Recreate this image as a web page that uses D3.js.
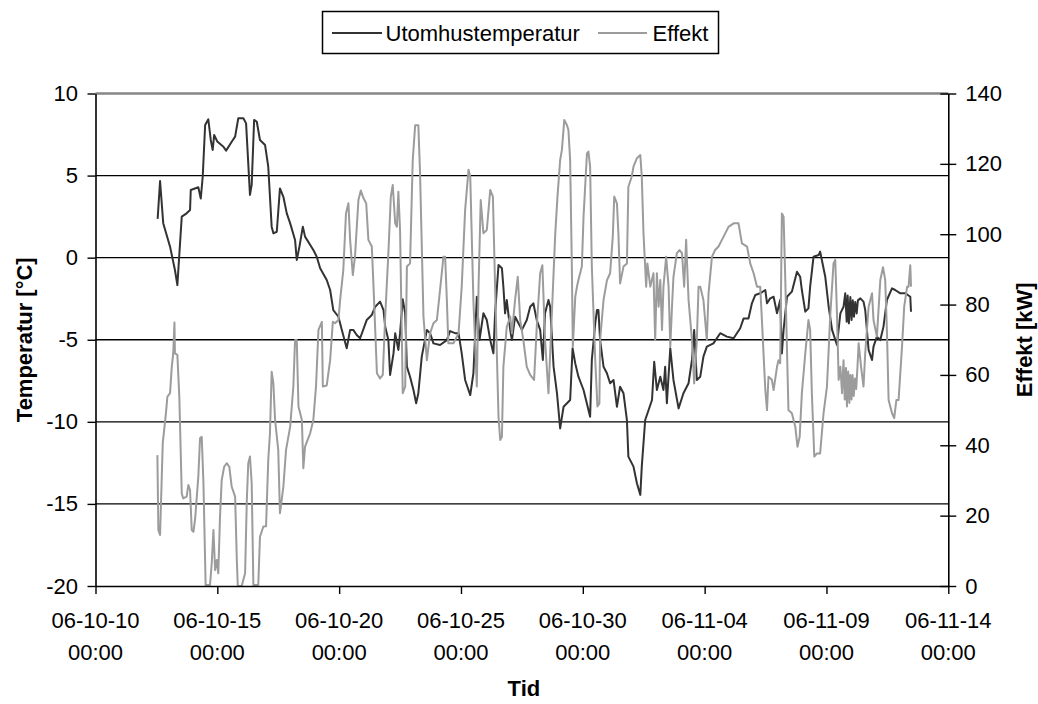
<!DOCTYPE html>
<html>
<head>
<meta charset="utf-8">
<script src="https://cdn.jsdelivr.net/npm/d3@7"></script>
<style>
  body { margin: 0; background: #fff; }
  svg { display: block; }
  text { font-family: "Liberation Sans", Arial, sans-serif; fill: #000; }
</style>
</head>
<body>
<svg id="chart" width="1038" height="704"></svg>
<script>
// Time axis: 2006-10-10 00:00 .. 2006-11-14 00:00, ticks every five days
const xTickDates = ["2006-10-10", "2006-10-15", "2006-10-20", "2006-10-25",
                    "2006-10-30", "2006-11-04", "2006-11-09", "2006-11-14"];
const tempTicks = [-20, -15, -10, -5, 0, 5, 10];
const powerTicks = [0, 20, 40, 60, 80, 100, 120, 140];
const seriesNames = ["Utomhustemperatur", "Effekt"];

// Outdoor temperature [°C]: [days after 2006-10-10 00:00, value]
const temperature = [
  [2.55,2.36],[2.65,4.67],[2.78,2.1],[3.06,0.67],[3.26,-0.75],[3.36,-1.67],[3.54,2.5],[3.74,2.7],
  [3.88,2.9],[3.91,4.12],[4.22,4.29],[4.32,3.6],[4.40,4.93],[4.50,8.08],[4.63,8.43],[4.73,7.17],
  [4.81,6.56],[4.87,7.47],[5.00,7.07],[5.25,6.76],[5.36,6.52],[5.59,7.06],[5.73,7.37],[5.86,8.49],
  [6.07,8.49],[6.18,8.18],[6.34,3.82],[6.41,4.43],[6.51,8.39],[6.62,8.28],[6.75,7.17],[6.96,6.86],
  [7.09,5.54],[7.23,1.89],[7.30,1.48],[7.44,1.58],[7.57,4.22],[7.71,3.71],[7.85,2.7],[7.99,2.09],
  [8.19,1.08],[8.26,-0.14],[8.37,0.67],[8.51,1.89],[8.60,1.28],[8.94,0.47],[9.08,0.06],[9.22,-0.65],
  [9.49,-1.36],[9.63,-1.97],[9.76,-3.19],[9.97,-3.6],[10.11,-4.4],[10.31,-5.52],[10.45,-4.4],[10.58,-4.4],
  [10.72,-4.71],[10.86,-4.91],[11.13,-3.8],[11.34,-3.49],[11.48,-2.99],[11.68,-2.68],[11.82,-3.19],[11.89,-4.2],
  [12.02,-5.01],[12.09,-7.15],[12.23,-5.83],[12.30,-4.61],[12.43,-5.62],[12.50,-4.6],[12.61,-2.54],[12.71,-3.39],
  [12.78,-6.64],[12.91,-7.25],[13.05,-8.06],[13.16,-8.87],[13.25,-8.26],[13.39,-6.03],[13.60,-4.4],[13.73,-4.6],
  [13.87,-5.22],[14.14,-5.32],[14.42,-5.02],[14.55,-4.47],[14.76,-4.6],[14.90,-4.6],[15.03,-5.83],[15.17,-7.45],
  [15.38,-8.37],[15.51,-7.04],[15.65,-2.38],[15.76,-5.02],[15.92,-3.39],[16.06,-3.8],[16.20,-5.02],[16.33,-5.83],
  [16.40,-3.39],[16.54,-0.45],[16.68,-0.65],[16.74,-1.77],[16.81,-3.39],[16.88,-2.58],[17.02,-4.4],[17.09,-5.02],
  [17.22,-3.6],[17.36,-4.0],[17.50,-4.4],[17.70,-3.8],[17.84,-2.99],[17.97,-2.78],[18.11,-3.8],[18.25,-4.4],
  [18.36,-6.23],[18.45,-3.39],[18.59,-2.58],[18.66,-2.99],[18.80,-6.64],[18.94,-8.26],[19.07,-10.4],[19.21,-9.08],
  [19.35,-8.87],[19.48,-8.67],[19.58,-5.52],[19.69,-6.44],[19.82,-7.25],[20.03,-8.06],[20.30,-9.69],[20.37,-6.23],
  [20.51,-4.0],[20.58,-3.19],[20.64,-3.19],[20.71,-5.02],[20.85,-6.64],[20.99,-7.04],[21.12,-7.65],[21.26,-7.45],
  [21.40,-9.08],[21.53,-7.86],[21.67,-8.26],[21.81,-9.89],[21.87,-12.12],[22.08,-12.73],[22.22,-13.74],[22.36,-14.45],
  [22.42,-12.73],[22.56,-9.89],[22.70,-9.28],[22.84,-8.67],[22.93,-6.34],[23.04,-8.06],[23.18,-7.25],[23.31,-8.06],
  [23.38,-6.64],[23.45,-8.87],[23.59,-5.52],[23.72,-7.45],[23.93,-9.18],[24.13,-8.26],[24.34,-7.65],[24.48,-6.23],
  [24.57,-4.4],[24.68,-7.45],[24.82,-7.25],[24.95,-6.03],[25.09,-5.42],[25.36,-5.22],[25.64,-4.6],[25.91,-4.81],
  [26.19,-4.91],[26.46,-4.3],[26.60,-3.7],[26.80,-3.7],[26.94,-2.78],[27.08,-2.27],[27.28,-2.17],[27.49,-1.97],
  [27.56,-2.78],[27.69,-2.48],[27.83,-2.38],[27.97,-3.39],[28.10,-2.58],[28.17,-5.83],[28.24,-4.4],[28.38,-2.38],
  [28.58,-2.07],[28.79,-0.86],[28.92,-1.16],[28.99,-1.97],[29.13,-3.29],[29.26,-3.09],[29.33,-1.77],[29.47,0.06],
  [29.68,0.16],[29.74,0.37],[29.81,-0.14],[29.95,-1.16],[30.09,-2.99],[30.23,-4.4],[30.43,-5.32],[30.57,-3.39],
  [30.70,-2.99],[30.77,-2.17],[30.83,-3.9],[30.87,-2.3],[30.92,-4.0],[30.98,-2.4],[31.03,-3.8],[31.08,-2.6],
  [31.13,-3.6],[31.18,-2.7],[31.24,-3.4],[31.29,-2.6],[31.39,-2.48],[31.52,-2.68],[31.59,-3.19],[31.73,-5.63],
  [31.87,-6.23],[31.93,-5.42],[32.07,-4.81],[32.21,-5.02],[32.34,-4.2],[32.48,-2.58],[32.69,-1.87],[32.82,-1.97],
  [33.03,-2.17],[33.24,-2.17],[33.44,-2.38],[33.47,-3.29]
];

// Heating power [kW]: [days after 2006-10-10 00:00, value]
const power = [
  [2.54,37.2],[2.58,15.9],[2.65,14.5],[2.76,40.6],[2.89,49.1],[2.95,53.8],[3.06,54.8],[3.13,62.3],
  [3.19,66.1],[3.24,74.9],[3.26,66.1],[3.36,65.7],[3.44,53.8],[3.54,26.3],[3.60,24.9],[3.74,25.4],
  [3.81,28.7],[3.88,27.3],[3.95,15.9],[4.02,15.4],[4.09,19.2],[4.22,31.1],[4.29,42.0],[4.36,42.4],
  [4.43,29.2],[4.52,0.3],[4.70,0.3],[4.77,6.4],[4.84,15.9],[4.91,4.5],[4.98,7.4],[5.04,3.6],
  [5.11,19.7],[5.18,30.1],[5.28,33.9],[5.39,34.9],[5.49,33.9],[5.59,28.2],[5.73,25.4],[5.80,7.4],
  [5.84,0],[6.00,0],[6.14,3.6],[6.21,24.4],[6.27,34.9],[6.34,36.8],[6.41,29.2],[6.48,0.3],
  [6.68,0.3],[6.75,14.0],[6.89,16.9],[7.00,17],[7.09,35.8],[7.16,43.4],[7.23,60.9],[7.30,57.6],
  [7.37,47.2],[7.50,38.7],[7.57,20.7],[7.71,28.2],[7.82,38.7],[7.99,45.3],[8.12,56.7],[8.19,69.9],
  [8.26,69.9],[8.33,51.0],[8.47,47.2],[8.53,33.5],[8.60,39.6],[8.81,43.4],[8.94,47.2],[9.05,56.7],
  [9.15,72.8],[9.29,75.1],[9.33,56.7],[9.49,57],[9.63,64.2],[9.74,75.1],[9.83,74.7],[9.97,75.6],
  [10.04,81.3],[10.17,89.8],[10.28,105.9],[10.38,108.8],[10.45,98.4],[10.56,88.4],[10.65,93.6],[10.79,109.7],
  [10.89,112.4],[11.00,110.2],[11.11,108.8],[11.20,98.4],[11.34,96.5],[11.41,85.1],[11.55,60.5],[11.68,59.0],
  [11.79,60],[11.89,76.6],[12.02,94.6],[12.12,110.7],[12.20,114.0],[12.30,103.1],[12.37,102.1],[12.43,112.1],
  [12.50,101],[12.57,71.8],[12.61,54.8],[12.71,56.7],[12.78,90.8],[12.91,91.7],[13.02,121.1],[13.12,131.0],
  [13.25,131.0],[13.32,117.3],[13.46,76.6],[13.60,64.2],[13.73,71.8],[13.87,74.7],[14.01,75.6],[14.14,84.1],
  [14.28,93.6],[14.35,93.6],[14.42,81.3],[14.48,69.0],[14.69,69.0],[14.90,71.8],[15.03,85.1],[15.17,106.9],
  [15.31,118.3],[15.38,116.4],[15.51,81],[15.65,56.7],[15.72,85],[15.81,109.7],[15.92,100.3],[16.06,101.2],
  [16.20,112.6],[16.31,110.7],[16.40,85],[16.54,48.1],[16.61,41.5],[16.68,42.4],[16.74,62.3],[16.88,73.7],
  [17.02,76.6],[17.09,71.8],[17.22,81.3],[17.33,87.9],[17.43,75.6],[17.56,69.9],[17.70,62.3],[17.84,60.0],
  [18.00,58.6],[18.11,73.7],[18.25,88.9],[18.34,91.2],[18.45,70],[18.59,54.8],[18.66,66.1],[18.80,88.9],
  [18.87,100.3],[18.96,110.7],[19.07,121.1],[19.14,123.9],[19.24,132.5],[19.35,131.0],[19.41,129.6],[19.48,121],
  [19.55,90.8],[19.59,68.0],[19.69,82.2],[19.76,85.1],[19.82,87.0],[19.96,90.8],[20.03,105.0],[20.17,123.0],
  [20.23,123.5],[20.30,119.2],[20.37,90.8],[20.51,64.2],[20.60,51.0],[20.68,51.9],[20.71,69.9],[20.85,81.3],
  [20.99,86.9],[21.12,88.9],[21.23,99.3],[21.29,110.7],[21.40,108.8],[21.46,100.3],[21.53,86.0],[21.67,90.8],
  [21.81,91.7],[21.87,113.5],[22.01,116.4],[22.08,119.2],[22.22,121.6],[22.36,122.5],[22.42,116.4],[22.49,100.3],
  [22.60,85.1],[22.65,91.7],[22.77,85.1],[22.90,88.9],[22.97,69.9],[23.04,88.9],[23.11,79.4],[23.18,87.0],
  [23.25,72.8],[23.31,85.1],[23.42,93.6],[23.52,85.1],[23.59,68.0],[23.66,79.4],[23.72,87.9],[23.86,94.6],
  [23.97,95.5],[24.07,94.6],[24.16,85.1],[24.24,98.4],[24.34,81.3],[24.48,69.9],[24.57,57.6],[24.68,69.9],
  [24.75,85.1],[24.82,85.1],[24.95,81.3],[25.09,69.9],[25.16,83.2],[25.30,93.6],[25.43,95.5],[25.57,96.5],
  [25.71,98.4],[25.85,100.3],[25.98,102.1],[26.19,103.1],[26.39,103.1],[26.53,97.4],[26.74,96.5],[26.87,91.7],
  [27.01,88.9],[27.15,85.1],[27.28,85.1],[27.35,75.6],[27.49,55.7],[27.56,50.0],[27.62,59.5],[27.76,58.6],
  [27.83,55.7],[27.97,62.3],[28.03,64.2],[28.10,63.3],[28.17,105.9],[28.24,105.0],[28.31,87.0],[28.44,50.0],
  [28.58,49.1],[28.72,45.3],[28.81,39.6],[28.90,42.4],[28.99,54.8],[29.13,66.1],[29.26,75.6],[29.33,72.8],
  [29.40,54.8],[29.50,36.8],[29.61,37.7],[29.74,37.7],[29.88,49.1],[30.02,56.7],[30.16,77.5],[30.29,91.7],
  [30.36,92.7],[30.43,77.5],[30.50,58.6],[30.57,62.3],[30.64,54.8],[30.70,64.2],[30.75,53],[30.80,62],
  [30.84,51],[30.89,61],[30.94,52],[30.98,60],[31.03,53],[31.07,60],[31.12,54],[31.17,59],
  [31.22,56],[31.27,62],[31.32,69.0],[31.42,62.3],[31.52,56.7],[31.59,66.1],[31.73,79.4],[31.87,83.2],
  [31.93,75.6],[32.07,70.9],[32.21,87.0],[32.32,90.6],[32.41,87.0],[32.48,72.8],[32.55,52.9],[32.69,49.1],
  [32.78,47.7],[32.87,52.9],[32.96,52.9],[33.10,68.0],[33.19,79.4],[33.31,85.1],[33.37,85.1],[33.44,91.2],
  [33.47,85.1]
];

const parseDay = d3.utcParse("%Y-%m-%d");
const tickDates = xTickDates.map(parseDay);
const t0 = tickDates[0];
const dayToDate = d => new Date(t0.getTime() + d * 864e5);

const plot = { left: 95.5, right: 948.3, top: 93.5, bottom: 586 };
const fontSize = 22;
const darkColor = "#333333";
const greyColor = "#9c9c9c";

const svg = d3.select("#chart");

const x = d3.scaleUtc()
  .domain([tickDates[0], tickDates[tickDates.length - 1]])
  .range([plot.left, plot.right]);
const yT = d3.scaleLinear().domain([-20, 10]).range([plot.bottom, plot.top]);
const yP = d3.scaleLinear().domain([0, 140]).range([plot.bottom, plot.top]);

// horizontal gridlines on the temperature scale
svg.append("g")
  .selectAll("line")
  .data(tempTicks.filter(v => v > -20 && v < 10))
  .join("line")
  .attr("x1", plot.left).attr("x2", plot.right)
  .attr("y1", d => yT(d)).attr("y2", d => yT(d))
  .attr("stroke", "#000").attr("stroke-width", 1.4);

// plot-area top border
svg.append("line")
  .attr("x1", plot.left).attr("x2", plot.right)
  .attr("y1", yT(10)).attr("y2", yT(10))
  .attr("stroke", "#868686").attr("stroke-width", 2.4);

// series lines
const tempLine = d3.line().x(d => x(dayToDate(d[0]))).y(d => yT(d[1]));
const powerLine = d3.line().x(d => x(dayToDate(d[0]))).y(d => yP(d[1]));

svg.append("path")
  .datum(temperature)
  .attr("d", tempLine)
  .attr("fill", "none")
  .attr("stroke", darkColor)
  .attr("stroke-width", 2)
  .attr("stroke-linejoin", "round");

svg.append("path")
  .datum(power)
  .attr("d", powerLine)
  .attr("fill", "none")
  .attr("stroke", greyColor)
  .attr("stroke-width", 2)
  .attr("stroke-linejoin", "round");

// left axis: temperature
const leftAxis = svg.append("g")
  .attr("transform", `translate(${plot.left},0)`)
  .call(d3.axisLeft(yT).tickValues(tempTicks).tickSize(8).tickSizeOuter(0)
    .tickPadding(9.5).tickFormat(d => String(d)));

// right axis: power, ticks crossing the axis line
const rightAxis = svg.append("g")
  .attr("transform", `translate(${plot.right},0)`)
  .call(d3.axisRight(yP).tickValues(powerTicks).tickSize(8).tickSizeOuter(0)
    .tickPadding(9).tickFormat(d => String(d)));
rightAxis.selectAll(".tick line").attr("x1", -8);

// bottom axis: time
const bottomAxis = svg.append("g")
  .attr("transform", `translate(0,${plot.bottom})`)
  .call(d3.axisBottom(x).tickValues(tickDates).tickSize(8).tickSizeOuter(0)
    .tickFormat(""));

[leftAxis, rightAxis, bottomAxis].forEach(g => {
  g.select(".domain").attr("stroke", "#000").attr("stroke-width", 1.6);
  g.selectAll(".tick line").attr("stroke", "#000").attr("stroke-width", 1.4);
  g.selectAll(".tick text")
    .attr("font-family", '"Liberation Sans", Arial, sans-serif')
    .attr("font-size", fontSize).attr("fill", "#000");
});

const fmtDate = d3.utcFormat("%y-%m-%d");
const fmtTime = d3.utcFormat("%H:%M");
const dateLabels = svg.append("g")
  .selectAll("text")
  .data(tickDates)
  .join("text")
  .attr("x", d => x(d))
  .attr("text-anchor", "middle")
  .attr("font-size", fontSize);
dateLabels.append("tspan").attr("x", d => x(d)).attr("y", 628).text(d => fmtDate(d));
dateLabels.append("tspan").attr("x", d => x(d)).attr("y", 660).text(d => fmtTime(d));

// axis titles
svg.append("text")
  .attr("transform", `translate(31.5,${(plot.top + plot.bottom) / 2}) rotate(-90)`)
  .attr("text-anchor", "middle")
  .attr("font-size", fontSize).attr("font-weight", "bold")
  .text("Temperatur [°C]");

svg.append("text")
  .attr("transform", `translate(1031.5,${(plot.top + plot.bottom) / 2}) rotate(-90)`)
  .attr("text-anchor", "middle")
  .attr("font-size", fontSize).attr("font-weight", "bold")
  .text("Effekt [kW]");

svg.append("text")
  .attr("x", (plot.left + plot.right) / 2 + 2)
  .attr("y", 696)
  .attr("text-anchor", "middle")
  .attr("font-size", fontSize).attr("font-weight", "bold")
  .text("Tid");

// legend
const legend = svg.append("g");
legend.append("rect")
  .attr("x", 322.5).attr("y", 11.5).attr("width", 396).attr("height", 42)
  .attr("fill", "#fff").attr("stroke", "#000").attr("stroke-width", 1.5);
const legendItems = [
  { name: seriesNames[0], color: darkColor, x0: 332, x1: 382, tx: 385.5 },
  { name: seriesNames[1], color: greyColor, x0: 598, x1: 647, tx: 652.5 }
];
legendItems.forEach(it => {
  legend.append("line")
    .attr("x1", it.x0).attr("x2", it.x1).attr("y1", 33).attr("y2", 33)
    .attr("stroke", it.color).attr("stroke-width", 2);
  legend.append("text")
    .attr("x", it.tx).attr("y", 41)
    .attr("font-size", fontSize)
    .text(it.name);
});
</script>
</body>
</html>
